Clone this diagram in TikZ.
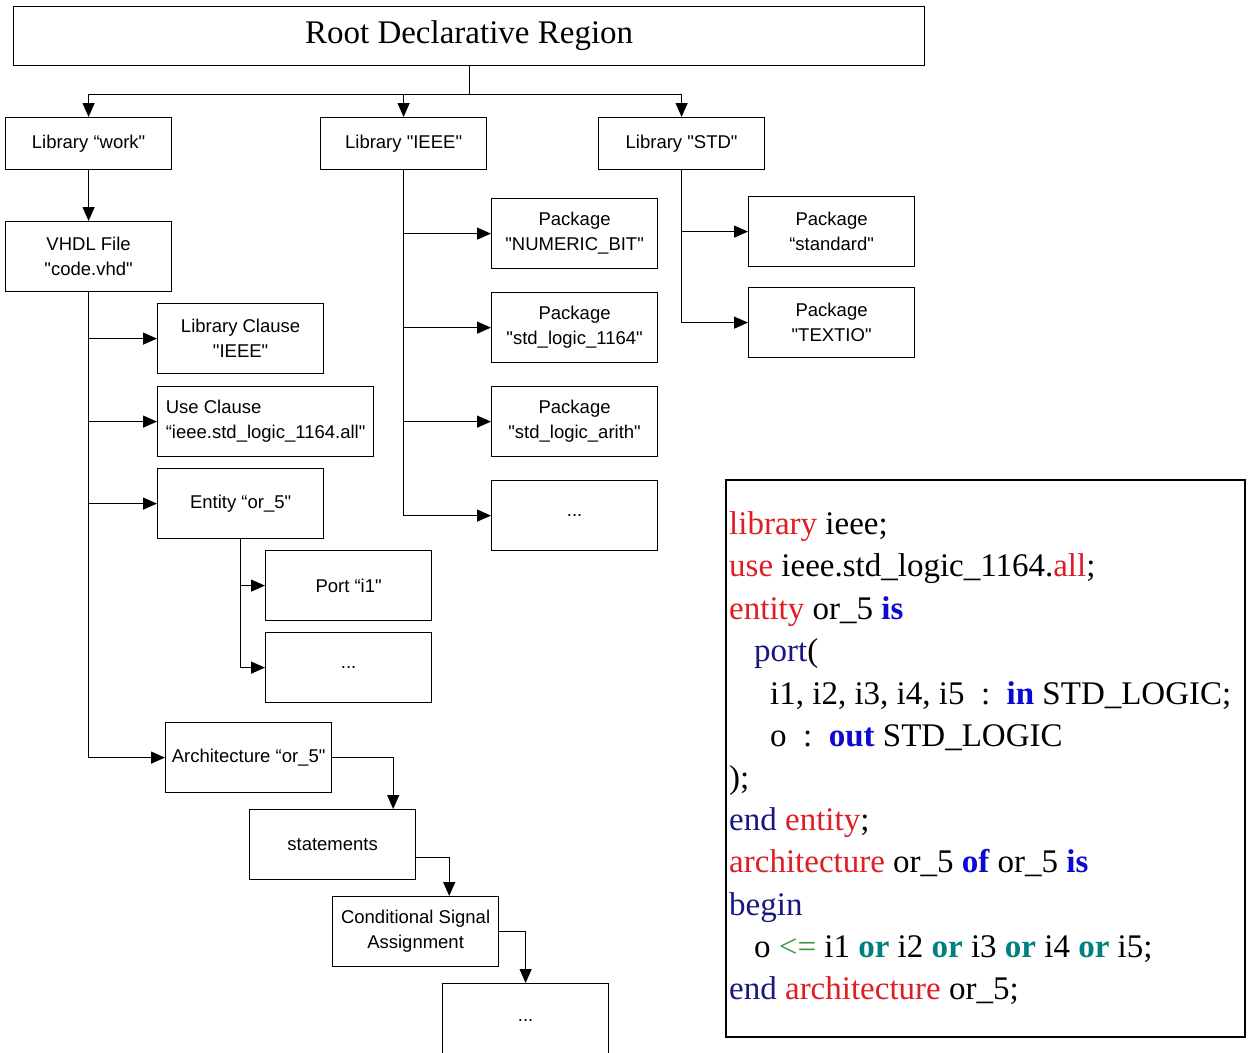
\documentclass[tikz,border=0pt]{standalone}
\usepackage{fontspec}
\setmainfont{Liberation Serif}
\setsansfont{Liberation Sans}
\usetikzlibrary{arrows.meta}

% keyword colours of the VHDL listing
\definecolor{kwred}{RGB}{222,30,36}
\definecolor{kwnavy}{RGB}{24,24,128}
\definecolor{kwblue}{RGB}{10,10,210}
\definecolor{kwteal}{RGB}{0,128,128}
\definecolor{kwgreen}{RGB}{60,150,60}
\newcommand{\kwr}[1]{\textcolor{kwred}{#1}}
\newcommand{\kwn}[1]{\textcolor{kwnavy}{#1}}
\newcommand{\kwb}[1]{\textcolor{kwblue}{\bfseries #1}}
\newcommand{\kwt}[1]{\textcolor{kwteal}{\bfseries #1}}
% straight double quote
\newcommand{\sq}{\textquotedbl}

\begin{document}
\begin{tikzpicture}[x=1pt,y=-1pt,
  box/.style={draw, line width=1.2pt, anchor=north west, inner sep=2pt,
    minimum width=166pt, minimum height=70pt, align=center,
    font=\sffamily\fontsize{18.5}{25}\selectfont},
  arr/.style={line width=1.2pt, -{Triangle[length=14pt,width=12pt]}},
  link/.style={line width=1.2pt},
  codeline/.style={anchor=base west, inner sep=0pt,
    font=\rmfamily\fontsize{33}{40}\selectfont}]
\useasboundingbox (0,0) rectangle (1249,1052);

% root and libraries
\node[box, minimum width=911pt, minimum height=59pt,
  font=\rmfamily\fontsize{33}{40}\selectfont] (root) at (13,6) {Root Declarative Region};
\node[box, minimum height=52pt] (work) at (5,117) {Library “work\sq};
\node[box, minimum height=52pt] (ieee) at (320,117) {Library \sq IEEE\sq};
\node[box, minimum height=52pt] (std) at (598,117) {Library \sq STD\sq};

\draw[link] (root.south) -- ++(0,28) coordinate (split);
\draw[arr] (split) -| (work.north);
\draw[arr] (split) -| (ieee.north);
\draw[arr] (split) -| (std.north);

% work library contents
\node[box] (vhdl) at (5,221) {VHDL File\\\sq code.vhd\sq};
\node[box] (libc) at (157,303) {Library Clause\\\sq IEEE\sq};
\node[box, minimum width=216pt, align=left] (usec) at (157,386) {Use Clause\\“ieee.std\_logic\_1164.all\sq};
\node[box] (ent) at (157,468) {Entity “or\_5\sq};
\node[box] (port) at (265,550) {Port “i1\sq};
\node[box] (portmore) at (265,632) {...};
\node[box] (arch) at (165,722) {Architecture “or\_5\sq};
\node[box] (stmt) at (249,809) {statements};
\node[box] (csa) at (332,896) {Conditional Signal\\Assignment};
\node[box, minimum height=74pt] (stmore) at (442,983) {...};

\draw[arr] (work) -- (vhdl);
\draw[link] (vhdl.south) -- (vhdl.south |- arch.west);
\draw[arr] (vhdl.south |- libc.west) -- (libc.west);
\draw[arr] (vhdl.south |- usec.west) -- (usec.west);
\draw[arr] (vhdl.south |- ent.west) -- (ent.west);
\draw[arr] (vhdl.south |- arch.west) -- (arch.west);
\draw[link] (ent.south) -- (ent.south |- portmore.west);
\draw[arr] (ent.south |- port.west) -- (port.west);
\draw[arr] (ent.south |- portmore.west) -- (portmore.west);
\draw[arr] (arch.east) -| ([xshift=-23pt]stmt.north east);
\draw[arr] ([yshift=-13pt]stmt.east) -| ([xshift=-50pt]csa.north east);
\draw[arr] (csa.east) -| (stmore.north);

% IEEE library packages
\node[box] (numbit) at (491,198) {Package\\\sq NUMERIC\_BIT\sq};
\node[box] (sl1164) at (491,292) {Package\\\sq std\_logic\_1164\sq};
\node[box] (slarith) at (491,386) {Package\\\sq std\_logic\_arith\sq};
\node[box] (pkmore) at (491,480) {...};
\draw[link] (ieee.south) -- (ieee.south |- pkmore.west);
\draw[arr] (ieee.south |- numbit.west) -- (numbit.west);
\draw[arr] (ieee.south |- sl1164.west) -- (sl1164.west);
\draw[arr] (ieee.south |- slarith.west) -- (slarith.west);
\draw[arr] (ieee.south |- pkmore.west) -- (pkmore.west);

% STD library packages
\node[box] (stdpk) at (748,196) {Package\\“standard\sq};
\node[box] (textio) at (748,287) {Package\\\sq TEXTIO\sq};
\draw[link] (std.south) -- (std.south |- textio.west);
\draw[arr] (std.south |- stdpk.west) -- (stdpk.west);
\draw[arr] (std.south |- textio.west) -- (textio.west);

% VHDL source listing
\node[draw, line width=1.6pt, anchor=north west, minimum width=519pt,
  minimum height=557pt] (codebox) at (725,479) {};
\node[codeline] (c1) at (729,534) {\kwr{library} ieee;};
\node[codeline] (c2) at (729,576) {\kwr{use} ieee.std\_logic\_1164.\kwr{all};};
\node[codeline] (c3) at (729,619) {\kwr{entity} or\_5 \kwb{is}};
\node[codeline] (c4) at (754,661) {\kwn{port}(};
\node[codeline] (c5) at (770,704) {i1, i2, i3, i4, i5\ \ :\ \ \kwb{in} STD\_LOGIC;};
\node[codeline] (c6) at (770,746) {o\ \ :\ \ \kwb{out} STD\_LOGIC};
\node[codeline] (c7) at (729,788) {);};
\node[codeline] (c8) at (729,830) {\kwn{end} \kwr{entity};};
\node[codeline] (c9) at (729,872) {\kwr{architecture} or\_5 \kwb{of} or\_5 \kwb{is}};
\node[codeline] (c10) at (729,915) {\kwn{begin}};
\node[codeline] (c11) at (754,957) {o \textcolor{kwgreen}{<=} i1 \kwt{or} i2 \kwt{or} i3 \kwt{or} i4 \kwt{or} i5;};
\node[codeline] (c12) at (729,999) {\kwn{end} \kwr{architecture} or\_5;};
\end{tikzpicture}
\end{document}
